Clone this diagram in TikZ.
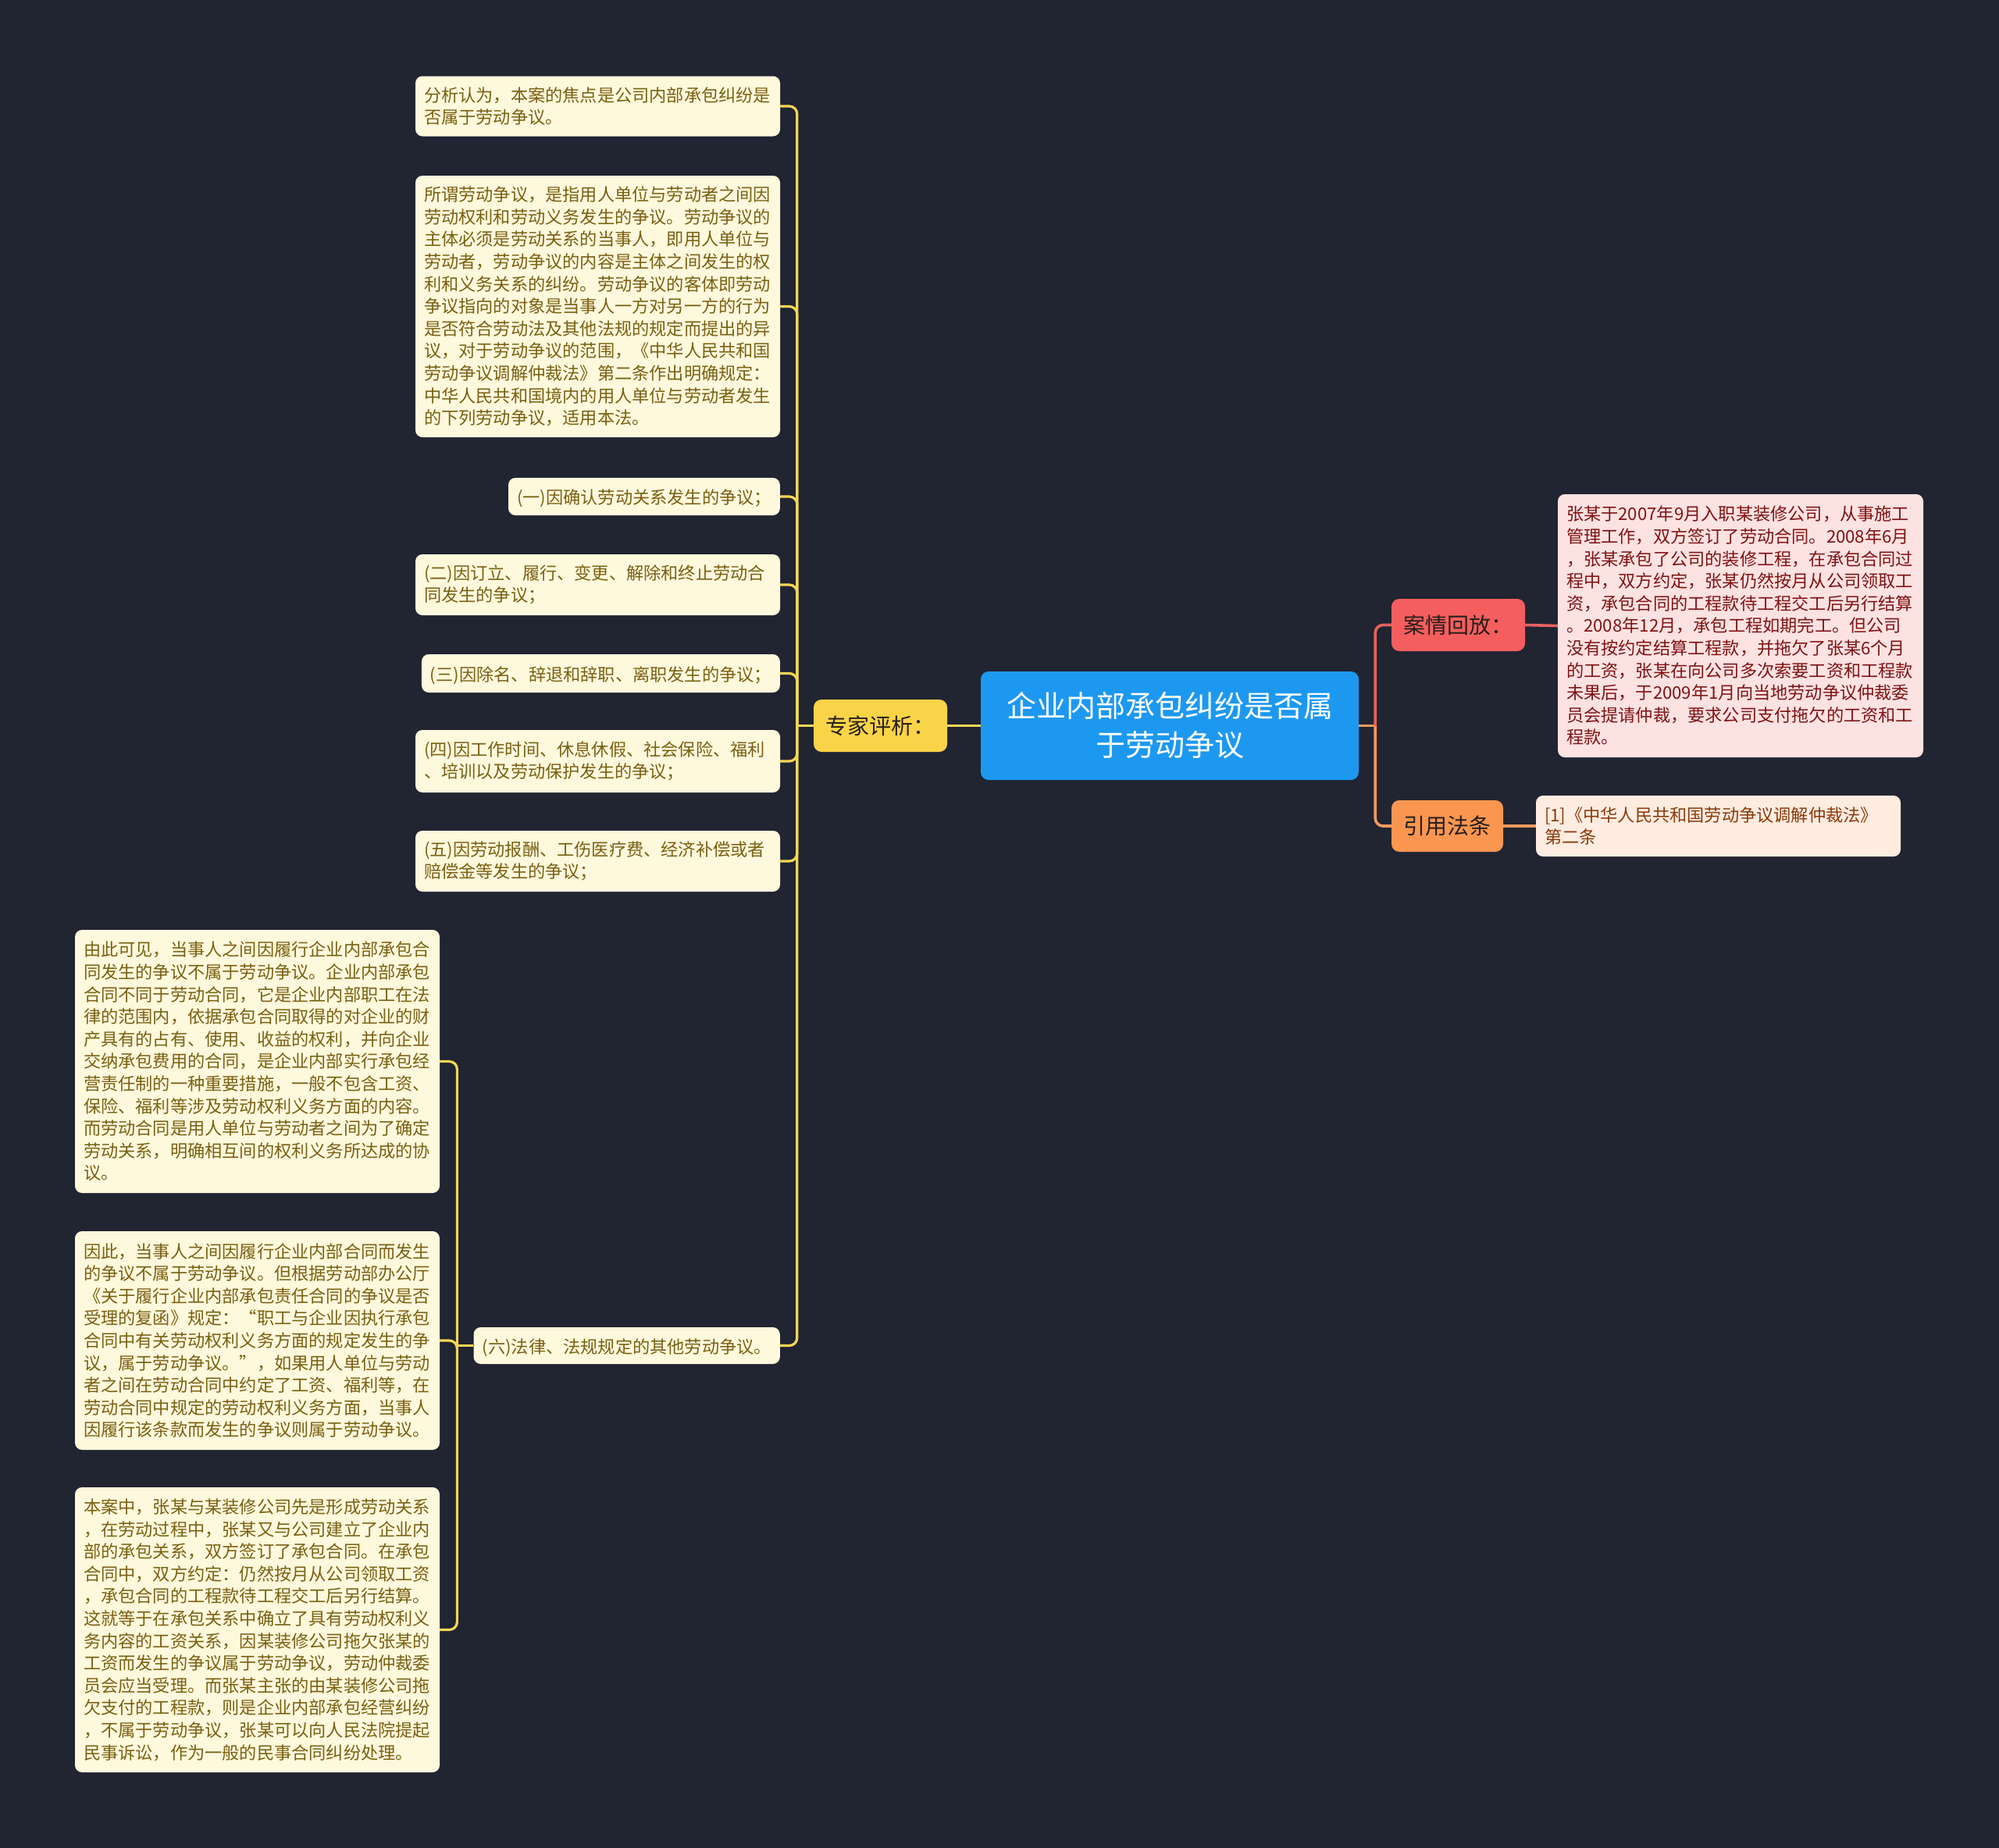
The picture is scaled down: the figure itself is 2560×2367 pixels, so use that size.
\documentclass[tikz,border=0pt]{standalone}
\usepackage{fontspec}
\setmainfont{Noto Sans CJK SC}
\definecolor{bg}{RGB}{33,36,49}
\definecolor{cream}{RGB}{254,248,221}
\definecolor{creamtxt}{RGB}{122,96,16}
\definecolor{yel}{RGB}{250,212,72}
\definecolor{yelline}{RGB}{246,214,86}
\definecolor{rootblue}{RGB}{29,152,240}
\definecolor{redbox}{RGB}{245,94,94}
\definecolor{redline}{RGB}{232,98,94}
\definecolor{pinkbox}{RGB}{253,226,226}
\definecolor{pinktxt}{RGB}{128,18,18}
\definecolor{orbox}{RGB}{250,150,80}
\definecolor{orline}{RGB}{242,154,94}
\definecolor{peach}{RGB}{255,236,224}
\definecolor{peachtxt}{RGB}{138,58,12}
\definecolor{darktxt}{RGB}{40,30,28}
\tikzset{
  x=1pt, y=-1pt,
  leaf/.style={fill=cream, text=creamtxt, rounded corners=9pt, inner xsep=11pt, inner ysep=0pt,
    font=\fontsize{22.2}{28.6}\selectfont},
  oneleaf/.style={leaf, text height=20pt, text depth=1pt},
  wideleaf/.style={leaf, align=left, text width=445pt},
  yl/.style={draw=yelline, line width=3.2pt},
  ylr/.style={yl, rounded corners=10pt},
  rootbox/.style={fill=rootblue, text=white, rounded corners=10pt, minimum width=484pt, minimum height=139pt,
    font=\fontsize{38}{50}\selectfont, align=center, inner sep=0pt},
  mainbox/.style={rounded corners=10pt, minimum height=67pt, inner sep=0pt, text=darktxt,
    font=\fontsize{28}{34}\selectfont}
}
\begin{document}
\begin{tikzpicture}
\fill[bg] (0,0) rectangle (2560,2367);
\useasboundingbox (0,0) rectangle (2560,2367);

% root and main branches
\node[rootbox] (root) at (1498,929.5) {企业内部承包纠纷是否属\\于劳动争议};
\node[mainbox, fill=yel, minimum width=171pt] (zj) at (1127.5,929.5) {专家评析：};
\node[mainbox, fill=redbox, minimum width=171pt] (aq) at (1867.5,800.5) {案情回放：};
\node[mainbox, fill=orbox, minimum width=143pt, minimum height=66pt] (yy) at (1853.5,1058) {引用法条};

% right leaves
\node[wideleaf, fill=pinkbox, text=pinktxt, minimum height=337pt, text width=446pt] (aqt) at (2229,801.5) {张某于2007年9月入职某装修公司，从事施工\\管理工作，双方签订了劳动合同。2008年6月\\，张某承包了公司的装修工程，在承包合同过\\程中，双方约定，张某仍然按月从公司领取工\\资，承包合同的工程款待工程交工后另行结算\\。2008年12月，承包工程如期完工。但公司\\没有按约定结算工程款，并拖欠了张某6个月\\的工资，张某在向公司多次索要工资和工程款\\未果后，于2009年1月向当地劳动争议仲裁委\\员会提请仲裁，要求公司支付拖欠的工资和工\\程款。};
\node[wideleaf, fill=peach, text=peachtxt, minimum height=78pt] (cite) at (2200.5,1058) {[1]《中华人民共和国劳动争议调解仲裁法》\\第二条};

% left leaves
\node[wideleaf, minimum height=77pt] (c1) at (765.5,136) {分析认为，本案的焦点是公司内部承包纠纷是\\否属于劳动争议。};
\node[wideleaf, minimum height=335pt] (c2) at (765.5,392.5) {所谓劳动争议，是指用人单位与劳动者之间因\\劳动权利和劳动义务发生的争议。劳动争议的\\主体必须是劳动关系的当事人，即用人单位与\\劳动者，劳动争议的内容是主体之间发生的权\\利和义务关系的纠纷。劳动争议的客体即劳动\\争议指向的对象是当事人一方对另一方的行为\\是否符合劳动法及其他法规的规定而提出的异\\议，对于劳动争议的范围，《中华人民共和国\\劳动争议调解仲裁法》第二条作出明确规定：\\中华人民共和国境内的用人单位与劳动者发生\\的下列劳动争议，适用本法。};
\node[oneleaf, anchor=east, minimum height=48pt] (c3) at (999,636) {(一)因确认劳动关系发生的争议；};
\node[wideleaf, minimum height=78pt] (c4) at (765.5,749) {(二)因订立、履行、变更、解除和终止劳动合\\同发生的争议；};
\node[oneleaf, anchor=east, minimum height=49pt] (c5) at (999,862.5) {(三)因除名、辞退和辞职、离职发生的争议；};
\node[wideleaf, minimum height=80pt] (c6) at (765.5,975) {(四)因工作时间、休息休假、社会保险、福利\\、培训以及劳动保护发生的争议；};
\node[wideleaf, minimum height=78pt] (c7) at (765.5,1103) {(五)因劳动报酬、工伤医疗费、经济补偿或者\\赔偿金等发生的争议；};
\node[oneleaf, anchor=east, minimum height=47pt] (c8) at (999,1723.5) {(六)法律、法规规定的其他劳动争议。};

\node[wideleaf, minimum height=337pt] (d1) at (329.5,1359.5) {由此可见，当事人之间因履行企业内部承包合\\同发生的争议不属于劳动争议。企业内部承包\\合同不同于劳动合同，它是企业内部职工在法\\律的范围内，依据承包合同取得的对企业的财\\产具有的占有、使用、收益的权利，并向企业\\交纳承包费用的合同，是企业内部实行承包经\\营责任制的一种重要措施，一般不包含工资、\\保险、福利等涉及劳动权利义务方面的内容。\\而劳动合同是用人单位与劳动者之间为了确定\\劳动关系，明确相互间的权利义务所达成的协\\议。};
\node[wideleaf, minimum height=280pt] (d2) at (329.5,1717) {因此，当事人之间因履行企业内部合同而发生\\的争议不属于劳动争议。但根据劳动部办公厅\\《关于履行企业内部承包责任合同的争议是否\\受理的复函》规定：“职工与企业因执行承包\\合同中有关劳动权利义务方面的规定发生的争\\议，属于劳动争议。”，如果用人单位与劳动\\者之间在劳动合同中约定了工资、福利等，在\\劳动合同中规定的劳动权利义务方面，当事人\\因履行该条款而发生的争议则属于劳动争议。};
\node[wideleaf, minimum height=365pt] (d3) at (329.5,2087.5) {本案中，张某与某装修公司先是形成劳动关系\\，在劳动过程中，张某又与公司建立了企业内\\部的承包关系，双方签订了承包合同。在承包\\合同中，双方约定：仍然按月从公司领取工资\\，承包合同的工程款待工程交工后另行结算。\\这就等于在承包关系中确立了具有劳动权利义\\务内容的工资关系，因某装修公司拖欠张某的\\工资而发生的争议属于劳动争议，劳动仲裁委\\员会应当受理。而张某主张的由某装修公司拖\\欠支付的工程款，则是企业内部承包经营纠纷\\，不属于劳动争议，张某可以向人民法院提起\\民事诉讼，作为一般的民事合同纠纷处理。};

% connectors: root to branches
\draw[yl, line width=3.6pt] (root.west) -- (zj.east);
\draw[orline, line width=3.6pt] (root.east) -- ++(21,0) coordinate (rT);
\draw[redline, line width=3.6pt, rounded corners=10pt] (rT) |- (aq.west);
\draw[orline, line width=3.6pt, rounded corners=10pt] (rT) |- (yy.west);
\draw[redline, line width=3.6pt] (aq.east) -- (aqt.west);
\draw[orline, line width=3.6pt] (yy.east) -- (cite.west);

% expert branch trunk
\draw[yl] (zj.west) -- ++(-21,0) coordinate (zT);
\foreach \c in {c1,c2,c3,c4,c5,c6,c7,c8} {
  \draw[ylr] (zT) |- (\c.east);
}
\draw[yl] (c8.west) -- ++(-21,0) coordinate (sT);
\foreach \c in {d1,d2,d3} {
  \draw[ylr] (sT) |- (\c.east);
}
\end{tikzpicture}
\end{document}
